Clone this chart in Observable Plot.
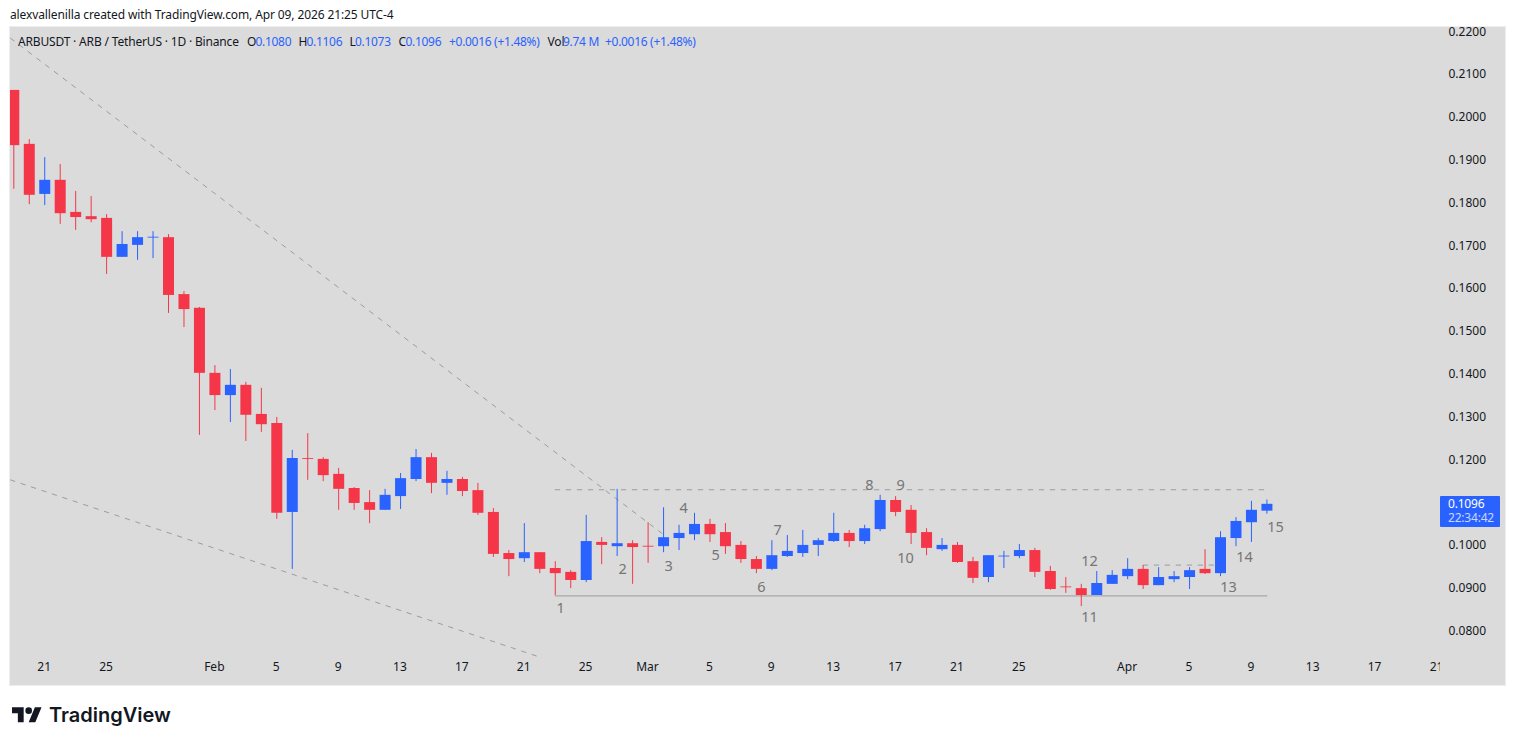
<!DOCTYPE html>
<html>
<head>
<meta charset="utf-8">
<script src="https://cdn.jsdelivr.net/npm/d3@7"></script>
<script src="https://cdn.jsdelivr.net/npm/@observablehq/plot@0.6"></script>
<style>
html,body{margin:0;padding:0;background:#fff;width:1515px;height:745px;overflow:hidden;font-family:"Noto Sans",sans-serif;color:#131722}
#credit{position:absolute;left:10px;top:6px;font-size:12px;line-height:18px;white-space:pre;letter-spacing:-.115px}
#chart{position:absolute;left:10px;top:27px;width:1495px;height:658px;outline:1px solid #eeeeee}
#chart svg{display:block;overflow:hidden}
#legend span{position:absolute;top:33px;font-size:12px;line-height:18px;white-space:pre;color:#131722;letter-spacing:-.17px}
#legend span.v{color:#2962ff;letter-spacing:-.3px}
#tag{position:absolute;left:1440px;top:496px;width:60px;height:31px;background:#2962ff;color:#fff;font-size:12px;line-height:14px;border-radius:1px;box-sizing:border-box;padding:1px 0 0 8px;letter-spacing:-.2px}
#tag span{display:block;color:#c9d6ff}
#logo{position:absolute;left:12px;top:703.7px}
#brand{position:absolute;left:49px;top:700px;font-family:Inter,sans-serif;font-weight:600;font-size:20px;line-height:30px;color:#131722}
</style>
</head>
<body>
<div id="credit">alexvallenilla created with TradingView.com, Apr 09, 2026 21:25 UTC-4</div>
<div id="chart"></div>
<div id="legend">
<span style="left:18px">ARBUSDT · ARB / TetherUS · 1D · Binance</span>
<span style="left:247px">O</span><span class="v" style="left:255.5px">0.1080</span>
<span style="left:298.5px">H</span><span class="v" style="left:306.5px">0.1106</span>
<span style="left:349.5px">L</span><span class="v" style="left:355px">0.1073</span>
<span style="left:398.5px">C</span><span class="v" style="left:405.5px">0.1096</span>
<span class="v" style="left:449px">+0.0016 (+1.48%)</span>
<span style="left:547.5px">Vol</span><span class="v" style="left:563px">9.74 M</span>
<span class="v" style="left:605px">+0.0016 (+1.48%)</span>
</div>
<div id="tag">0.1096<span>22:34:42</span></div>
<svg id="logo" width="30" height="23.3" viewBox="0 0 36 28"><path fill="#131722" d="M14 22H7V11H0V4h14v18zM28 22h-8l7.5-18h8L28 22z"/><circle fill="#131722" cx="20" cy="8" r="4"/></svg>
<div id="brand">TradingView</div>
<script>
const firstDay = Date.UTC(2026, 0, 19);
const opens = [
  .2063,.1937,.1820,.1853,.1778,.1768,.1764,.1673,.1701,.1718,.1719,.1586,.1554,.1402,.1350,.1374,.1306,.1285,.1077,.1203,
  .1201,.1166,.1133,.1100,.1082,.1114,.1154,.1205,.1145,.1154,.1128,.1077,.0981,.0969,.0983,.0946,.0937,.0918,.1007,.0997,
  .1004,.0998,.0997,.1016,.1025,.1049,.1030,.1000,.0967,.0944,.0974,.0981,.1000,.1009,.1028,.1009,.1037,.1105,.1082,.1030,
  .0990,.1000,.0962,.0925,.0973,.0974,.0988,.0939,.0903,.0899,.0883,.0909,.0927,.0944,.0906,.0920,.0925,.0944,.0934,.1016,
  .1053,.1080];
const highs = [
  .2063,.1948,.1906,.1890,.1827,.1815,.1773,.1733,.1733,.1733,.1726,.1593,.1556,.1420,.1411,.1381,.1367,.1299,.1222,.1261,
  .1205,.1180,.1135,.1128,.1131,.1168,.1224,.1215,.1173,.1159,.1145,.1086,.0988,.1051,.0983,.0962,.0941,.1070,.1018,.1131,
  .1011,.1053,.1088,.1047,.1075,.1061,.1051,.1009,.0974,.1011,.1023,.1035,.1016,.1075,.1035,.1047,.1117,.1114,.1093,.1039,
  .1016,.1007,.0972,.0976,.0986,.1002,.0993,.0951,.0925,.0909,.0939,.0941,.0969,.0953,.0948,.0939,.0948,.0990,.1032,.1065,
  .1103,.1106];
const lows = [
  .1832,.1796,.1794,.1750,.1736,.1754,.1633,.1673,.1666,.1670,.1542,.1509,.1257,.1315,.1287,.1243,.1264,.1061,.0944,.1152,
  .1149,.1082,.1082,.1051,.1082,.1084,.1149,.1121,.1117,.1114,.1070,.0972,.0927,.0960,.0934,.0883,.0899,.0913,.0955,.0974,
  .0909,.0958,.0983,.0988,.1011,.1007,.0979,.0958,.0934,.0941,.0972,.0972,.0974,.1007,.0995,.1002,.1032,.1067,.1002,.0976,
  .0986,.0958,.0911,.0913,.0946,.0969,.0925,.0895,.0888,.0857,.0883,.0909,.0920,.0897,.0906,.0913,.0897,.0932,.0927,.0997,
  .1007,.1073];
const closes = [
  .1934,.1818,.1853,.1775,.1766,.1761,.1673,.1703,.1719,.1720,.1584,.1551,.1402,.1350,.1374,.1304,.1282,.1075,.1203,.1201,
  .1163,.1131,.1098,.1082,.1117,.1156,.1205,.1145,.1154,.1126,.1075,.0979,.0967,.0983,.0944,.0934,.0918,.1009,.1000,.1004,
  .0995,.0996,.1018,.1028,.1049,.1025,.0997,.0967,.0944,.0976,.0986,.1000,.1011,.1028,.1009,.1039,.1105,.1077,.1028,.0993,
  .1000,.0960,.0923,.0976,.0975,.0988,.0937,.0897,.0901,.0883,.0911,.0930,.0944,.0906,.0925,.0927,.0941,.0934,.1018,.1056,
  .1082,.1096];

const priceTicks = [.22,.21,.20,.19,.18,.17,.16,.15,.14,.13,.12,.11,.10,.09,.08];
const timeTickDays = [2,6,13,17,21,25,29,33,37,41,45,49,53,57,61,65,72,76,80,84,88,92];
const timeTickLabels = ["21","25","Feb","5","9","13","17","21","25","Mar","5","9","13","17","21","25","Apr","5","9","13","17","21"];

const noteDays = [35.34,39.35,42.32,43.29,45.36,48.33,49.37,55.3,57.32,57.64,69.53,69.53,78.52,79.55,81.56];
const notePrices = [.0853,.0944,.0951,.1086,.0976,.0902,.1035,.1140,.1140,.0969,.0832,.0962,.0902,.0972,.1042];
const noteTexts = ["1","2","3","4","5","6","7","8","9","10","11","12","13","14","15"];

const upperTrendDays = [-0.2133, 41.9];
const upperTrendPrices = [.2185, .1028];
const lowerTrendDays = [-0.2133, 33.92];
const lowerTrendPrices = [.1153, .0740];
const ceilingDays = [35, 80.9];
const ceilingPrice = .1130;
const floorDays = [35, 81];
const floorPrice = .0882;
const shortDays = [73, 78];
const shortPrice = .0954;

const dayAt = d => new Date(firstDay + d * 864e5);
const candles = opens.map((o, i) => ({date: dayAt(i), open: o, high: highs[i], low: lows[i], close: closes[i]}));
const up = "#2962ff", down = "#f53648";
const colorOf = d => d.close >= d.open ? up : down;
const pts = (days, prices) => days.map((d, i) => ({date: dayAt(d), price: Array.isArray(prices) ? prices[i] : prices}));
const notes = noteTexts.map((t, i) => ({date: dayAt(noteDays[i]), price: notePrices[i], text: t}));
const timeTicks = timeTickLabels.map((t, i) => ({date: dayAt(timeTickDays[i]), text: t}));
const dashed = {x: "date", y: "price", stroke: "#9c9c9c", strokeWidth: 1, strokeDasharray: "4.5 6.5", clip: true};

const chart = Plot.plot({
  width: 1495, height: 658,
  marginLeft: 0, marginRight: 65, marginTop: 0, marginBottom: 0,
  style: {background: "#dbdbdb", color: "#131722", fontFamily: '"Noto Sans",sans-serif', fontSize: "12px", overflow: "hidden"},
  x: {type: "utc", domain: [dayAt(-0.2133), dayAt(92.22)], axis: null},
  y: {type: "linear", domain: [.06727, .22100], axis: null},
  marks: [
    Plot.line(pts(upperTrendDays, upperTrendPrices), dashed),
    Plot.line(pts(lowerTrendDays, lowerTrendPrices), dashed),
    Plot.line(pts(ceilingDays, ceilingPrice), dashed),
    Plot.line(pts(floorDays, floorPrice), {x: "date", y: "price", stroke: "#9c9c9c", strokeWidth: 1, clip: true}),
    Plot.line(pts(shortDays, shortPrice), dashed),
    Plot.ruleX(candles, {x: "date", y1: "low", y2: "high", stroke: colorOf, strokeWidth: 1, clip: true}),
    Plot.ruleX(candles, {x: "date", y1: "open", y2: "close", stroke: colorOf, strokeWidth: 11, clip: true}),
    Plot.text(notes, {x: "date", y: "price", text: "text", fill: "#757575", fontSize: 14.5, clip: true}),
    Plot.text(timeTicks, {x: "date", frameAnchor: "bottom", dy: -14.3, dx: -0.6, text: "text", fill: "#131722", fontSize: 12, clip: true}),
    Plot.axisY({anchor: "right", ticks: priceTicks, tickSize: 0, tickPadding: 8, tickFormat: d3.format(".4f"), label: null})
  ]
});
document.getElementById("chart").append(chart);
</script>
</body>
</html>
